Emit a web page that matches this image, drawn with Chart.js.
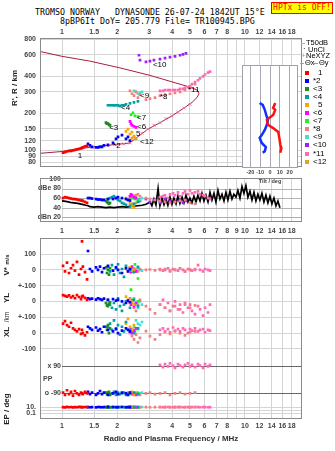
<!DOCTYPE html>
<html>
<head>
<meta charset="utf-8">
<script src="https://cdn.jsdelivr.net/npm/chart.js@4.4.1/dist/chart.umd.min.js"></script>
<style>
  body { margin: 0; width: 335px; height: 451px; background: #fff; position: relative; overflow: hidden;
         font-family: "Liberation Sans", Arial, sans-serif; }
  canvas { position: absolute; }
  .mono { position: absolute; white-space: pre; line-height: 1; font: 8.3px "DejaVu Sans Mono", monospace; color: #000; }
  .rot { position: absolute; white-space: pre; line-height: 1; transform: translate(-50%, -50%) rotate(-90deg);
         font-weight: bold; font-size: 8px; color: #222; }
  #hptx { position: absolute; left: 271px; top: 2px; width: 60px; height: 10px; background: #ffff00;
          border: 1px solid #ff0000; color: #ff0000; font: 8px "DejaVu Sans Mono", monospace;
          line-height: 10px; text-align: center; white-space: pre; }
  .leg { position: absolute; font-size: 7.5px; color: #000; white-space: pre; line-height: 1; }
  .sw { position: absolute; width: 4px; height: 4px; }
  .ln { position: absolute; height: 1px; }
</style>
</head>
<body>
<div class="mono" style="left:35px;top:7px">TROMSO NORWAY   DYNASONDE 26-07-24 1842UT 15°E</div>
<div class="mono" style="left:60px;top:16px">8pBP6It DoY= 205.779 File= TR100945.BPG</div>
<div id="hptx">HPTx is OFF!</div>

<canvas id="hChart" width="335" height="150" style="left:0;top:25px"></canvas>
<canvas id="aChart" width="335" height="65" style="left:0;top:174px"></canvas>
<canvas id="lChart" width="335" height="221" style="left:0;top:230px"></canvas>
<canvas id="tChart" width="75" height="125" style="left:232px;top:60px"></canvas>

<div class="rot" style="left:15px;top:88px">R', R / km</div>
<div class="rot" style="left:7px;top:265px">V* <span style="font-size:6px">m/s</span></div>
<div class="rot" style="left:7px;top:298px">YL</div>
<div class="rot" style="left:7px;top:317px;font-size:6.5px;font-weight:normal">/km</div>
<div class="rot" style="left:7px;top:332px">XL</div>
<div class="rot" style="left:7px;top:409px">EP / deg</div>
<div id="legend"></div>

<script>
// frequency axis (MHz)
const freqTicks = [1, 1.5, 2, 3, 4, 5, 6, 7, 8, 9, 10, 12, 14, 16, 18];
const topFreqLabels = ['1', '1.5', '2', '3', '4', '5', '6', '7', '8', '', '10', '12', '14', '16', '18'];
const ampFreqLabels = ['1', '1.5', '2', '3', '4', '5', '6', '7', '8', '9', '10', '12', '14', '16', '18'];
const lowFreqLabels = ['1', '1.5', '2', '3', '4', '5', '6', '7', '8', '', '10', '12', '14', '16', '18'];

const heightTicks = [80, 90, 100, 120, 150, 200, 300, 400, 600, 800];
const ampTicks = [100, 80, 60, 40, 20];
const ampLabels = ['100', 'dBe 80', '60', '40', 'dBn 20'];
// V*, YL and XL share one band scale (V* units)
const bandTicks = [100, 0, -100, -200, -300, -400, -500];
const bandLabels = ['100', '0', '+-100', '0', '+-100', '0', '-100'];
const ppTicks = [90, -90];
const ppLabels = ['x 90', 'o -90'];
const epTicks = [10, 0.1];
const epLabels = ['10.', '0.1'];
const tiltTicks = [-20, -10, 0, 10, 20];

const seriesNames = ['1', '*2', '<3', '<4', '5', '<6', '<7', '*8', '<9', '<10', '*11', '<12'];
const seriesColors = ['#ff0000', '#0000ff', '#1f8a1f', '#00a0a0', '#ffa500', '#ff00ff',
                      '#22ee22', '#f08080', '#40e0d0', '#a020f0', '#ff69b4', '#daa520'];
// where each trace tag is written (MHz, km)
const tagPos = [[1.22, 90], [1.90, 109], [1.81, 154], [2.10, 221], [2.54, 136], [2.57, 157],
                [2.57, 184], [3.43, 274], [2.67, 279], [3.14, 496], [4.88, 310], [2.67, 118]];

// echo rows: [MHz, km, dB, V* m/s, YL km, XL km, PP deg, EP deg]
const echo1 = [
  [1.013, 96, 60, 25, 40, 60, -85, 10], [1.038, 97, 62, -10, 35, 75, -100, 8],
  [1.065, 98, 61, 45, 30, 50, -70, 12], [1.092, 99, 60, -20, 38, 40, -95, 9],
  [1.120, 99, 59, 10, 25, 65, -80, 11], [1.148, 100, 58, 30, 33, 30, -105, 8],
  [1.177, 101, 58, -5, 20, 20, -75, 10], [1.207, 102, 57, 50, 40, 10, -90, 9],
  [1.239, 103, 56, -30, 28, 25, -100, 12], [1.270, 104, 55, 5, 15, -5, -85, 10],
  [1.286, 105, 55, 180, 30, 20, -90, 10], [1.300, 106, 54, 20, 35, 0, -95, 9],
  [1.335, 108, 52, -15, 22, -15, -80, 11], [1.370, 109, 50, -60, 10, 5, -90, 10]
];
const echo2 = [
  [1.387, 113, 60, 119, 20, 40, -80, 10], [1.422, 110, 60, 5, 15, 30, -95, 9],
  [1.459, 107, 59, -10, 18, 20, -85, 10], [1.534, 106, 58, 15, 12, 35, -100, 8],
  [1.573, 106, 57, 0, 20, 15, -90, 11], [1.613, 107, 57, 20, 15, 25, -75, 10],
  [1.654, 107, 56, -15, 10, 5, -95, 9], [1.696, 110, 56, 10, 18, 40, -85, 10],
  [1.783, 111, 58, 25, 10, 20, -100, 12], [1.900, 115, 58, -5, 15, 10, -90, 10],
  [1.973, 124, 60, 15, 5, 25, -80, 9], [2.023, 129, 62, 0, 10, 0, -95, 10],
  [2.127, 133, 60, -20, 0, 15, -85, 11], [2.237, 124, 58, 10, -10, 30, -90, 9],
  [2.294, 129, 56, -10, 5, 20, -100, 10], [2.352, 120, 55, 5, -5, 10, -85, 10]
];
const echo3 = [
  [1.739, 168, 54, 15, -10, 40, -85, 10], [1.761, 165, 52, -20, -25, 20, -95, 9],
  [1.783, 165, 50, 0, -30, 50, -90, 10], [1.806, 162, 48, -30, -15, 0, -80, 11],
  [1.829, 160, 50, 10, -5, 30, -100, 9]
];
const echo4 = [
  [1.783, 233, 58, 20, 10, 40, -85, 10], [1.829, 233, 60, -10, -20, 60, -95, 9],
  [1.876, 233, 62, 30, -40, 20, -90, 10], [1.923, 232, 64, -30, -10, 80, -80, 11],
  [1.973, 233, 60, 10, -50, 30, -100, 10], [2.023, 232, 56, 35, 20, 50, -85, 9],
  [2.074, 229, 54, -20, -30, -10, -95, 10], [2.127, 233, 50, 5, -60, 40, -90, 11],
  [2.181, 233, 48, -45, -20, 10, -85, 10], [2.237, 237, 46, 25, 0, 70, -100, 9],
  [2.352, 241, 44, 0, -40, 20, -90, 10], [2.474, 246, 48, -15, 10, 0, -85, 10],
  [2.601, 250, 52, 15, -30, 30, -95, 9]
];
const echo5 = [
  [2.237, 143, 60, 5, 30, 60, -90, 10], [2.294, 149, 56, -10, 10, 90, -85, 9],
  [2.352, 136, 50, 15, -10, 40, -95, 10], [2.412, 141, 44, -5, 0, 20, -80, 11],
  [2.474, 131, 40, 0, -20, 50, -100, 10]
];
const echo6 = [
  [2.352, 172, 64, 10, -5, 10, -90, 10], [2.382, 165, 68, -15, -20, 25, -85, 8],
  [2.412, 160, 66, 20, 5, 0, -95, 10], [2.474, 157, 62, 0, -30, 15, -90, 9],
  [2.537, 154, 60, -10, -10, 30, -100, 10]
];
const echo7 = [
  [2.382, 195, 62, 10, 75, 15, -85, 10], [2.443, 202, 60, -10, 10, 20, -90, 9],
  [2.505, 191, 58, 35, -20, 10, -95, 10], [2.601, 188, 56, -55, 0, 25, -90, 10]
];
const echo8 = [
  [2.352, 305, 60, 10, 20, 0, -90, 10], [2.412, 289, 62, -5, -10, -20, -85, 9],
  [2.474, 279, 64, 5, -40, -40, -95, 10], [2.537, 299, 66, 0, -60, -10, -90, 8],
  [2.601, 269, 68, -10, -20, -60, -85, 10], [2.668, 284, 64, 5, 10, -30, -100, 9],
  [2.877, 259, 60, 0, -30, 12, -90, 10], [3.025, 264, 58, 2, -50, -20, -85, 9],
  [3.222, 269, 56, -3, -75, -40, -95, 10], [3.432, 279, 54, 0, -20, -10, -90, 11],
  [3.655, 284, 52, 5, -40, 5, -85, 10], [3.893, 289, 50, -5, -60, -5, -100, 9],
  [4.146, 294, 52, 0, -30, 10, -90, 10], [4.416, 299, 54, 10, -50, 0, -85, 10],
  [4.702, 310, 56, -10, -20, -15, -95, 9], [5.008, 322, 50, 0, -40, 5, -90, 10],
  [5.334, 346, 48, 5, -25, 10, -85, 10]
];
const echo9 = [
  [2.474, 305, 60, 10, 20, 40, -90, 10], [2.537, 299, 62, -10, -10, 80, -85, 9],
  [2.601, 289, 58, 20, -40, 60, -95, 10], [2.668, 294, 56, 0, 0, 50, -90, 10],
  [2.736, 299, 60, -5, -20, 70, -85, 11]
];
const echo10 = [
  [2.634, 594, 56, null, null, null, null, null], [2.668, 542, 54, null, null, null, null, null],
  [2.877, 524, 58, null, null, null, null, null], [3.025, 532, 52, null, null, null, null, null],
  [3.181, 542, 56, null, null, null, null, null], [3.432, 552, 50, null, null, null, null, null],
  [3.655, 563, 58, null, null, null, null, null], [3.893, 574, 54, null, null, null, null, null],
  [4.146, 582, 52, null, null, null, null, null], [4.416, 594, 56, null, null, null, null, null],
  [4.585, 604, 50, null, null, null, null, null], [4.758, 615, 54, null, null, null, null, null]
];
const echo11 = [
  [3.432, 305, 62, 5, -20, 20, 95, 10], [3.564, 305, 64, -5, 10, 30, 80, 9],
  [3.655, 310, 66, 0, -40, 10, 100, 10], [3.796, 310, 60, 10, -10, 25, 85, 11],
  [3.893, 310, 68, -10, -60, 5, 105, 10], [4.043, 310, 70, 5, -30, 35, 90, 9],
  [4.146, 310, 66, 0, 0, 15, 75, 10], [4.306, 310, 72, -5, -50, 25, 100, 10],
  [4.416, 316, 64, 10, -20, 10, 90, 11], [4.585, 316, 70, 0, -70, 30, 80, 9],
  [4.702, 322, 74, -10, -10, 20, 95, 10], [4.884, 327, 68, 5, -40, 0, 105, 10],
  [5.008, 333, 76, 0, -20, 25, 85, 9], [5.136, 346, 70, -5, -60, 15, 95, 10],
  [5.334, 359, 72, 0, -80, 30, 80, 11], [5.539, 372, 74, 30, -30, 10, 100, 10],
  [5.680, 385, 68, 0, -50, 20, 90, 9], [5.900, 400, 66, -10, -90, 25, 75, 10],
  [6.050, 414, 64, 5, -40, 5, 100, 10], [6.280, 429, 60, 0, -70, 20, 85, 9],
  [6.440, 437, 58, -5, -20, 15, 95, 10]
];
const echo12 = [
  [2.412, 126, 48, null, null, null, null, null], [2.474, 129, 46, null, null, null, null, null],
  [2.537, 124, 50, null, null, null, null, null]
];
const echoes = [echo1, echo2, echo3, echo4, echo5, echo6, echo7, echo8, echo9, echo10, echo11, echo12];

// true-height profile, lower branch up to the peak and back along the top
const profFreq = [0.758, 1.0, 1.42, 2.35, 2.54, 2.95, 3.43, 3.99, 4.64, 5.14, 5.47, 5.61,
                  5.47, 5.0, 3.89, 3.03, 2.07, 1.42, 1.0, 0.758];
const profHeight = [94.7, 98, 106, 115, 126, 149, 168, 191, 221, 246, 269, 289,
                    310, 327, 365, 407, 469, 532, 582, 637];
const neFreq = [1.459, 1.613, 1.783, 1.973, 2.181, 2.352, 2.537, 2.736, 2.950, 3.181, 3.432,
                3.700, 3.990, 4.302, 4.640, 5.008];
const neHeight = [106, 107.5, 109, 111, 113, 115, 126, 138, 149, 160, 168, 181, 191, 205, 221, 237];

// tilt inset
const tiltXHeight = [255, 233, 225, 205, 188, 172, 162, 151, 136, 120, 113, 104];
const tiltX = [5.3, 3.2, 5.3, 3.2, -3.2, -2.1, 3.2, 8.4, 9.5, 10.5, 11.6, 10.5];
const tiltYHeight = [255, 246, 225, 198, 188, 172, 157, 143, 136, 124, 115, 107, 104];
const tiltY = [-10.5, -7.4, -5.3, -3.2, -2.1, -3.2, -5.3, -8.4, -10.5, -8.4, -4.2, -5.3, -7.4];

// unclassified noise amplitude
const noiseFreq = [1.00, 1.05, 1.11, 1.16, 1.22, 1.29, 1.35, 1.39, 1.42, 1.50, 1.57, 1.65, 1.74, 1.83,
  1.92, 2.02, 2.13, 2.24, 2.35, 2.47, 2.60, 2.74, 2.88, 3.03, 3.10, 3.18, 3.26, 3.35, 3.43, 3.52,
  3.61, 3.70, 3.79, 3.89, 3.99, 4.09, 4.20, 4.30, 4.41, 4.53, 4.64, 4.76, 4.88, 5.00, 5.13, 5.26,
  5.40, 5.53, 5.68, 5.82, 5.97, 6.12, 6.28, 6.44, 6.60, 6.77, 6.94, 7.12, 7.30, 7.49, 7.68, 7.87,
  8.07, 8.28, 8.49, 8.70, 8.93, 9.15, 9.39, 9.63, 9.87, 10.12, 10.38, 10.65, 10.92, 11.20, 11.48,
  11.77, 12.07, 12.38, 12.70, 13.02, 13.35, 13.69, 14.04, 14.40, 14.77, 15.14, 15.53];
const noiseDb = [54, 53, 51, 50, 49, 47, 45, 44, 42, 41, 42, 41, 40, 41,
  40, 41, 42, 41, 42, 43, 44, 45, 47, 52, 44, 58, 46, 80, 44, 60,
  46, 58, 45, 62, 47, 60, 48, 64, 49, 62, 50, 66, 52, 60, 50, 64,
  52, 66, 54, 70, 54, 66, 52, 72, 56, 70, 52, 76, 58, 68, 54, 72,
  56, 74, 58, 68, 62, 76, 60, 84, 70, 86, 62, 74, 56, 72, 54,
  68, 56, 70, 52, 66, 50, 64, 48, 60, 44, 54, 40];

const F_MIN = 0.758, F_MAX = 20.5;
const tickFont = { family: 'Liberation Sans', size: 7, weight: 'bold' };
const tickColor = '#444';
const gridColor = '#d4d4d4';

const col = (rows, k) => rows.filter(r => r[k] !== null).map(r => ({ x: r[0], y: r[k] }));
const pairs = (xs, ys) => xs.map((v, i) => ({ x: v, y: ys[i] }));
const setTicks = list => axis => { axis.ticks = list.map(v => ({ value: v })); };

const frame = {
  id: 'frame',
  afterDatasetsDraw(chart, args, opts) {
    const { ctx, chartArea: a } = chart;
    ctx.save();
    ctx.strokeStyle = opts.color || '#888';
    ctx.lineWidth = 1;
    ctx.strokeRect(Math.round(a.left) + 0.5, Math.round(a.top) + 0.5,
                   Math.round(a.right - a.left) - 1, Math.round(a.bottom - a.top) - 1);
    ctx.restore();
  }
};

const paper = {
  id: 'paper',
  beforeDraw(chart) {
    const { ctx, chartArea: a } = chart;
    ctx.save();
    ctx.fillStyle = '#fff';
    ctx.fillRect(a.left, a.top, a.right - a.left, a.bottom - a.top);
    ctx.restore();
  }
};

const tags = {
  id: 'tags',
  afterDatasetsDraw(chart) {
    const { ctx, scales: { x, y } } = chart;
    ctx.save();
    ctx.font = '8px "Liberation Sans"';
    ctx.fillStyle = '#000';
    ctx.textBaseline = 'middle';
    seriesNames.forEach((n, i) => {
      ctx.fillText(n, x.getPixelForValue(tagPos[i][0]), y.getPixelForValue(tagPos[i][1]));
    });
    ctx.restore();
  }
};

// labelled lines that start at the 1 MHz line
function hLine(ctx, x0, x1, y, color) {
  const py = Math.round(y) + 0.5;
  ctx.strokeStyle = color;
  ctx.beginPath();
  ctx.moveTo(x0, py);
  ctx.lineTo(x1, py);
  ctx.stroke();
}

const ampMarks = {
  id: 'ampMarks',
  beforeDatasetsDraw(chart) {
    const { ctx, chartArea: a, scales: { x, y } } = chart;
    const x1 = x.getPixelForValue(1);
    ctx.save();
    ctx.font = 'bold 7px "Liberation Sans"';
    ctx.textAlign = 'right';
    ctx.textBaseline = 'middle';
    ctx.lineWidth = 1;
    ampTicks.forEach((v, i) => {
      const py = y.getPixelForValue(v);
      if (v < 100) hLine(ctx, x1, a.right, py, v === 20 ? '#a8a8e0' : '#b4b4b4');
      ctx.fillStyle = tickColor;
      ctx.fillText(ampLabels[i], x1 - 1, py);
    });
    ctx.restore();
  }
};

const lowMarks = {
  id: 'lowMarks',
  beforeDatasetsDraw(chart) {
    const { ctx, chartArea: a, scales } = chart;
    const x1 = scales.x.getPixelForValue(1);
    ctx.save();
    ctx.font = 'bold 7px "Liberation Sans"';
    ctx.textBaseline = 'middle';
    ctx.lineWidth = 1;
    ctx.textAlign = 'right';
    ppTicks.forEach((v, i) => {
      const py = scales.yPP.getPixelForValue(v);
      hLine(ctx, x1, a.right, py, '#666');
      ctx.fillStyle = tickColor;
      ctx.fillText(ppLabels[i], x1 - 1, py);
    });
    epTicks.forEach((v, i) => {
      const py = scales.yEP.getPixelForValue(v);
      hLine(ctx, a.left, a.right, py, gridColor);
      ctx.fillStyle = tickColor;
      ctx.fillText(epLabels[i], a.left - 4, py);
    });
    hLine(ctx, a.left, a.right, scales.yEP.getPixelForValue(1), gridColor);
    ctx.textAlign = 'left';
    ctx.fillText('PP', a.left + 3, scales.yPP.getPixelForValue(0));
    ctx.restore();
  }
};

const baseOpts = {
  animation: false,
  responsive: false,
  events: [],
  elements: { point: { pointStyle: 'rect', radius: 1.9, borderWidth: 0 } }
};

// ---- height panel ----
const hSets = [
  { data: pairs(profFreq, profHeight), showLine: true, borderColor: '#a8203c', borderWidth: 1,
    pointRadius: 0, order: 5 },
  { data: pairs(neFreq, neHeight), pointStyle: 'crossRot', pointRadius: 2, borderWidth: 1,
    borderColor: '#e870a8', order: 4 }
];
echoes.forEach((rows, i) => hSets.push({ data: col(rows, 1), backgroundColor: seriesColors[i], order: 1 }));

new Chart(document.getElementById('hChart'), {
  type: 'scatter',
  data: { datasets: hSets },
  options: {
    ...baseOpts,
    layout: { padding: { left: 0, right: 33, top: 0, bottom: 3 } },
    plugins: { legend: { display: false }, tooltip: { enabled: false }, frame: { color: '#8a8a8a' } },
    scales: {
      x: {
        type: 'logarithmic', position: 'top', min: F_MIN, max: F_MAX,
        afterBuildTicks: setTicks(freqTicks),
        afterFit: a => { a.height = 13; },
        ticks: { autoSkip: false, maxRotation: 0, padding: 2, font: tickFont, color: tickColor,
                 callback: (v, i) => topFreqLabels[i] },
        grid: { color: gridColor, drawTicks: false }, border: { display: false }
      },
      y: {
        type: 'logarithmic', min: 73.6, max: 820,
        afterBuildTicks: setTicks(heightTicks),
        afterFit: a => { a.width = 40; },
        ticks: { autoSkip: false, padding: 4, font: tickFont, color: tickColor,
                 callback: (v, i) => String(heightTicks[i]) },
        grid: { color: gridColor, drawTicks: false }, border: { display: false }
      }
    }
  },
  plugins: [frame, tags]
});

// ---- amplitude panel ----
const aSets = [
  { data: pairs(noiseFreq, noiseDb), showLine: true, borderColor: '#000', borderWidth: 1.7,
    pointRadius: 0, order: 10 }
];
echoes.forEach((rows, i) => aSets.push({ data: col(rows, 2), backgroundColor: seriesColors[i], order: 1 }));

new Chart(document.getElementById('aChart'), {
  type: 'scatter',
  data: { datasets: aSets },
  options: {
    ...baseOpts,
    layout: { padding: { left: 40, right: 33, top: 2, bottom: 0 } },
    plugins: { legend: { display: false }, tooltip: { enabled: false }, frame: { color: '#8a8a8a' } },
    scales: {
      x: {
        type: 'logarithmic', position: 'bottom', min: F_MIN, max: F_MAX,
        afterBuildTicks: setTicks(freqTicks),
        afterFit: a => { a.height = 17; },
        ticks: { autoSkip: false, maxRotation: 0, padding: 5, font: tickFont, color: tickColor,
                 callback: (v, i) => ampFreqLabels[i] },
        grid: { color: gridColor, drawTicks: false }, border: { display: false }
      },
      y: { type: 'linear', display: false, min: 10, max: 102 }
    }
  },
  plugins: [ampMarks, frame]
});

// ---- drift / position / polarization panel ----
const bandAxes = [['yV', 3], ['yYL', 4], ['yXL', 5], ['yPP', 6], ['yEP', 7]];
const lSets = [];
echoes.forEach((rows, i) => bandAxes.forEach(([ax, k]) => {
  lSets.push({ data: col(rows, k), yAxisID: ax, backgroundColor: seriesColors[i] });
}));

new Chart(document.getElementById('lChart'), {
  type: 'scatter',
  data: { datasets: lSets },
  options: {
    ...baseOpts,
    layout: { padding: { left: 0, right: 33, top: 6, bottom: 6 } },
    plugins: { legend: { display: false }, tooltip: { enabled: false }, frame: { color: '#8a8a8a' } },
    scales: {
      x: {
        type: 'logarithmic', position: 'bottom', min: F_MIN, max: F_MAX,
        afterBuildTicks: setTicks(freqTicks),
        afterFit: a => { a.height = 26; },
        ticks: { autoSkip: false, maxRotation: 0, padding: 3, font: tickFont, color: tickColor,
                 callback: (v, i) => lowFreqLabels[i] },
        grid: { color: gridColor, drawTicks: false }, border: { display: false },
        title: { display: true, text: 'Radio and Plasma Frequency / MHz', color: '#333',
                 font: { family: 'Liberation Sans', size: 8, weight: 'bold' }, padding: { top: 0, bottom: 1 } }
      },
      yV: {
        type: 'linear', position: 'left', min: -943.75, max: 200,
        afterBuildTicks: setTicks(bandTicks),
        afterFit: a => { a.width = 40; },
        ticks: { autoSkip: false, padding: 4, font: tickFont, color: tickColor,
                 callback: (v, i) => bandLabels[i] },
        grid: { color: gridColor, drawTicks: false }, border: { display: false }
      },
      yYL: { type: 'linear', display: false, min: -743.75, max: 400 },
      yXL: { type: 'linear', display: false, min: -543.75, max: 600 },
      yPP: { type: 'linear', display: false, min: -257, max: 919 },
      yEP: { type: 'logarithmic', display: false, min: 1e-3, max: 1e58 }
    }
  },
  plugins: [lowMarks, frame]
});

// ---- tilt inset ----
new Chart(document.getElementById('tChart'), {
  type: 'scatter',
  data: {
    datasets: [
      { data: pairs(tiltX, tiltXHeight), showLine: true, borderColor: '#ff1010', borderWidth: 2.5, pointRadius: 0 },
      { data: pairs(tiltY, tiltYHeight), showLine: true, borderColor: '#1030ff', borderWidth: 2.5, pointRadius: 0 }
    ]
  },
  options: {
    ...baseOpts,
    layout: { padding: { left: 10, right: 9, top: 5, bottom: 0 } },
    plugins: { legend: { display: false }, tooltip: { enabled: false }, frame: { color: '#a0a0a8' } },
    scales: {
      x: {
        type: 'linear', position: 'bottom', min: -28.5, max: 28.5,
        afterBuildTicks: setTicks(tiltTicks),
        afterFit: a => { a.height = 17; },
        ticks: { autoSkip: false, maxRotation: 0, padding: 1, color: '#444',
                 font: { family: 'Liberation Sans', size: 5.5, weight: 'bold' } },
        grid: { color: '#a8a8b8', drawTicks: false }, border: { display: false },
        title: { display: true, text: 'Tilt / deg', color: '#444', padding: 0,
                 font: { family: 'Liberation Sans', size: 5.5, weight: 'bold' } }
      },
      y: { type: 'logarithmic', display: false, min: 79, max: 505 }
    }
  },
  plugins: [paper, frame]
});

// ---- legend ----
const legend = document.getElementById('legend');
function add(html) { legend.insertAdjacentHTML('beforeend', html); }
add('<div class="ln" style="left:301px;top:43px;width:4px;background:#b0b0b0"></div>');
add('<div class="leg" style="left:306px;top:39px">T50dB</div>');
add('<div class="leg" style="left:303px;top:45px">·</div><div class="leg" style="left:308px;top:46px">UnCl</div>');
add('<div class="leg" style="left:301px;top:52px;color:#e870a8">+</div><div class="leg" style="left:306px;top:52px">NeXYZ</div>');
add('<div class="ln" style="left:300px;top:63px;width:4px;background:#f08080"></div><div class="leg" style="left:305px;top:59px">Θx</div>');
add('<div class="ln" style="left:314px;top:63px;width:4px;background:#9090e0"></div><div class="leg" style="left:319px;top:59px">Θy</div>');
seriesNames.forEach((n, i) => {
  const cy = 72.5 + i * 8.1;
  const plain = n.length === 1;
  add(`<div class="sw" style="left:305px;top:${cy - 2}px;background:${seriesColors[i]}"></div>`);
  add(`<div class="leg" style="left:${plain ? 318 : 313}px;top:${cy - 4}px;font-size:8px">${n.replace('<', '&lt;')}</div>`);
});
</script>
</body>
</html>
